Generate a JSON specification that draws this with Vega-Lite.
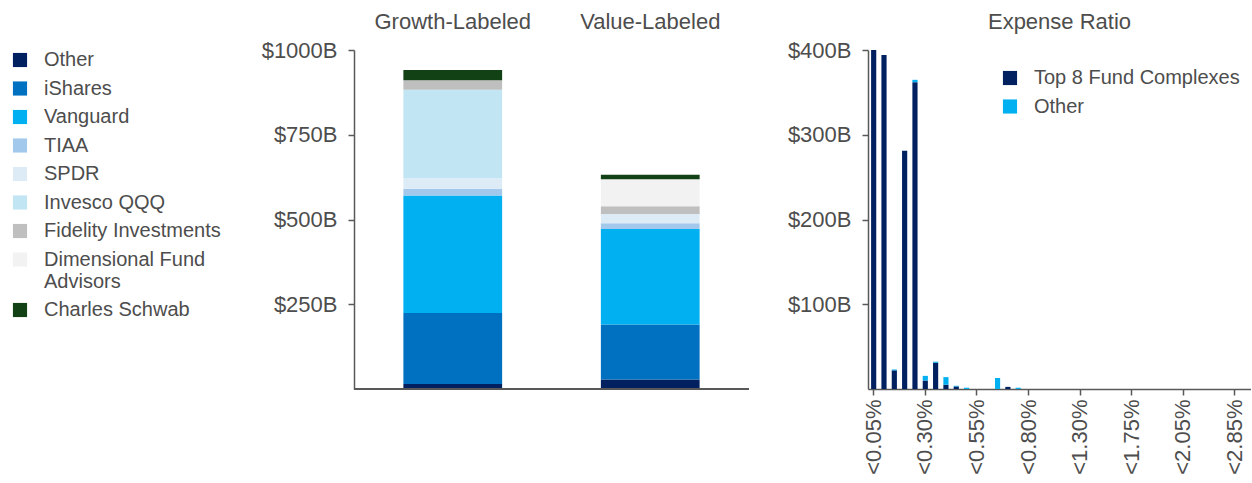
{
  "$schema": "https://vega.github.io/schema/vega-lite/v6.json",
  "padding": {"left": 10, "top": 10, "right": 0, "bottom": 0},
  "background": "white",
  "config": {
    "view": {"stroke": null},
    "font": "Liberation Sans",
    "axis": {"labelFont": "Liberation Sans", "labelFontSize": 22, "labelColor": "#4d4d4d", "domainColor": "#595959", "tickColor": "#595959", "domainWidth": 1.5, "tickWidth": 1.5, "tickSize": 6, "grid": false},
    "legend": {"labelFont": "Liberation Sans", "labelFontSize": 20, "labelColor": "#4d4d4d", "symbolType": "square", "symbolSize": 200, "symbolStrokeWidth": 0, "labelOffset": 14, "rowPadding": 8.5, "labelLimit": 400}
  },
  "datasets": {
    "funds": [
      {"style": "Growth-Labeled", "fund": "Other", "aum": 15},
      {"style": "Growth-Labeled", "fund": "iShares", "aum": 209},
      {"style": "Growth-Labeled", "fund": "Vanguard", "aum": 347},
      {"style": "Growth-Labeled", "fund": "TIAA", "aum": 20},
      {"style": "Growth-Labeled", "fund": "SPDR", "aum": 31},
      {"style": "Growth-Labeled", "fund": "Invesco QQQ", "aum": 261},
      {"style": "Growth-Labeled", "fund": "Fidelity Investments", "aum": 28},
      {"style": "Growth-Labeled", "fund": "Dimensional Fund Advisors", "aum": 0},
      {"style": "Growth-Labeled", "fund": "Charles Schwab", "aum": 30},
      {"style": "Value-Labeled", "fund": "Other", "aum": 28},
      {"style": "Value-Labeled", "fund": "iShares", "aum": 162},
      {"style": "Value-Labeled", "fund": "Vanguard", "aum": 282},
      {"style": "Value-Labeled", "fund": "TIAA", "aum": 17},
      {"style": "Value-Labeled", "fund": "SPDR", "aum": 27},
      {"style": "Value-Labeled", "fund": "Invesco QQQ", "aum": 0},
      {"style": "Value-Labeled", "fund": "Fidelity Investments", "aum": 23},
      {"style": "Value-Labeled", "fund": "Dimensional Fund Advisors", "aum": 80},
      {"style": "Value-Labeled", "fund": "Charles Schwab", "aum": 13}
    ],
    "expense": [
      {"ratio": "<0.05%", "group": "Top 8 Fund Complexes", "aum": 400},
      {"ratio": "<0.10%", "group": "Top 8 Fund Complexes", "aum": 394},
      {"ratio": "<0.15%", "group": "Top 8 Fund Complexes", "aum": 22},
      {"ratio": "<0.15%", "group": "Other", "aum": 1},
      {"ratio": "<0.20%", "group": "Top 8 Fund Complexes", "aum": 281},
      {"ratio": "<0.25%", "group": "Top 8 Fund Complexes", "aum": 362},
      {"ratio": "<0.25%", "group": "Other", "aum": 2.8},
      {"ratio": "<0.30%", "group": "Top 8 Fund Complexes", "aum": 10},
      {"ratio": "<0.30%", "group": "Other", "aum": 5.5},
      {"ratio": "<0.35%", "group": "Top 8 Fund Complexes", "aum": 31},
      {"ratio": "<0.35%", "group": "Other", "aum": 1.2},
      {"ratio": "<0.40%", "group": "Top 8 Fund Complexes", "aum": 5},
      {"ratio": "<0.40%", "group": "Other", "aum": 9},
      {"ratio": "<0.45%", "group": "Top 8 Fund Complexes", "aum": 3},
      {"ratio": "<0.45%", "group": "Other", "aum": 0.8},
      {"ratio": "<0.50%", "group": "Other", "aum": 1.5},
      {"ratio": "<0.65%", "group": "Other", "aum": 13},
      {"ratio": "<0.70%", "group": "Top 8 Fund Complexes", "aum": 2.5},
      {"ratio": "<0.75%", "group": "Other", "aum": 1.5}
    ]
  },
  "spacing": 37,
  "resolve": {"scale": {"color": "independent"}},
  "hconcat": [
    {
      "width": 395,
      "height": 339,
      "data": {"name": "funds"},
      "transform": [
        {"calculate": "indexof(['Other','iShares','Vanguard','TIAA','SPDR','Invesco QQQ','Fidelity Investments','Dimensional Fund Advisors','Charles Schwab'], datum.fund)", "as": "stackOrder"}
      ],
      "layer": [
        {
          "mark": {"type": "bar"},
          "encoding": {
            "x": {"field": "style", "type": "nominal", "sort": ["Growth-Labeled", "Value-Labeled"], "scale": {"paddingInner": 0.5, "paddingOuter": 0.25}, "axis": {"orient": "top", "labelAngle": 0, "domain": false, "ticks": false, "labelPadding": 17, "title": null}},
            "y": {"field": "aum", "type": "quantitative", "stack": "zero", "scale": {"domain": [0, 1000]}, "axis": {"values": [250, 500, 750, 1000], "labelExpr": "'$' + datum.value + 'B'", "title": null, "labelPadding": 11}},
            "color": {"field": "fund", "type": "nominal",
              "scale": {"domain": ["Other","iShares","Vanguard","TIAA","SPDR","Invesco QQQ","Fidelity Investments","Dimensional Fund Advisors","Charles Schwab"],
                        "range": ["#002060","#0070C0","#00B0F0","#A2C8EC","#DDEBF7","#C2E5F4","#BFBFBF","#F2F2F2","#124116"]},
              "legend": {"orient": "left", "offset": 40, "title": null, "labelExpr": "datum.label == 'Dimensional Fund Advisors' ? ['Dimensional Fund', 'Advisors'] : datum.label"}},
            "order": {"field": "stackOrder", "type": "quantitative"}
          }
        },
        {
          "mark": {"type": "rule", "color": "#595959", "strokeWidth": 1.5},
          "encoding": {"y": {"datum": 0, "title": null}}
        }
      ]
    },
    {
      "width": 383,
      "height": 339,
      "data": {"name": "expense"},
      "title": {"text": "Expense Ratio", "fontSize": 22, "font": "Liberation Sans", "fontWeight": "normal", "color": "#4d4d4d", "offset": 5, "anchor": "middle"},
      "transform": [
        {"calculate": "datum.group == 'Top 8 Fund Complexes' ? 0 : 1", "as": "stackOrder"}
      ],
      "mark": {"type": "bar"},
      "encoding": {
        "x": {"field": "ratio", "type": "nominal",
          "scale": {"domain": ["<0.05%","<0.10%","<0.15%","<0.20%","<0.25%","<0.30%","<0.35%","<0.40%","<0.45%","<0.50%","<0.55%","<0.60%","<0.65%","<0.70%","<0.75%","<0.80%","<0.90%","<1.00%","<1.10%","<1.20%","<1.30%","<1.40%","<1.50%","<1.60%","<1.70%","<1.75%","<1.80%","<1.85%","<1.90%","<1.95%","<2.05%","<2.15%","<2.25%","<2.50%","<2.75%","<2.85%","<2.95%"], "paddingInner": 0.5, "paddingOuter": 0.3},
          "axis": {"values": ["<0.05%","<0.30%","<0.55%","<0.80%","<1.30%","<1.75%","<2.05%","<2.85%"], "labelAngle": -90, "title": null, "labelPadding": 4}},
        "y": {"field": "aum", "type": "quantitative", "stack": "zero", "scale": {"domain": [0, 400]}, "axis": {"values": [100, 200, 300, 400], "labelExpr": "'$' + datum.value + 'B'", "title": null, "labelPadding": 11}},
        "color": {"field": "group", "type": "nominal", "scale": {"domain": ["Top 8 Fund Complexes", "Other"], "range": ["#002060", "#00B0F0"]}, "legend": {"orient": "none", "legendX": 132, "legendY": 18, "title": null}},
        "order": {"field": "stackOrder", "type": "quantitative"}
      }
    }
  ]
}
